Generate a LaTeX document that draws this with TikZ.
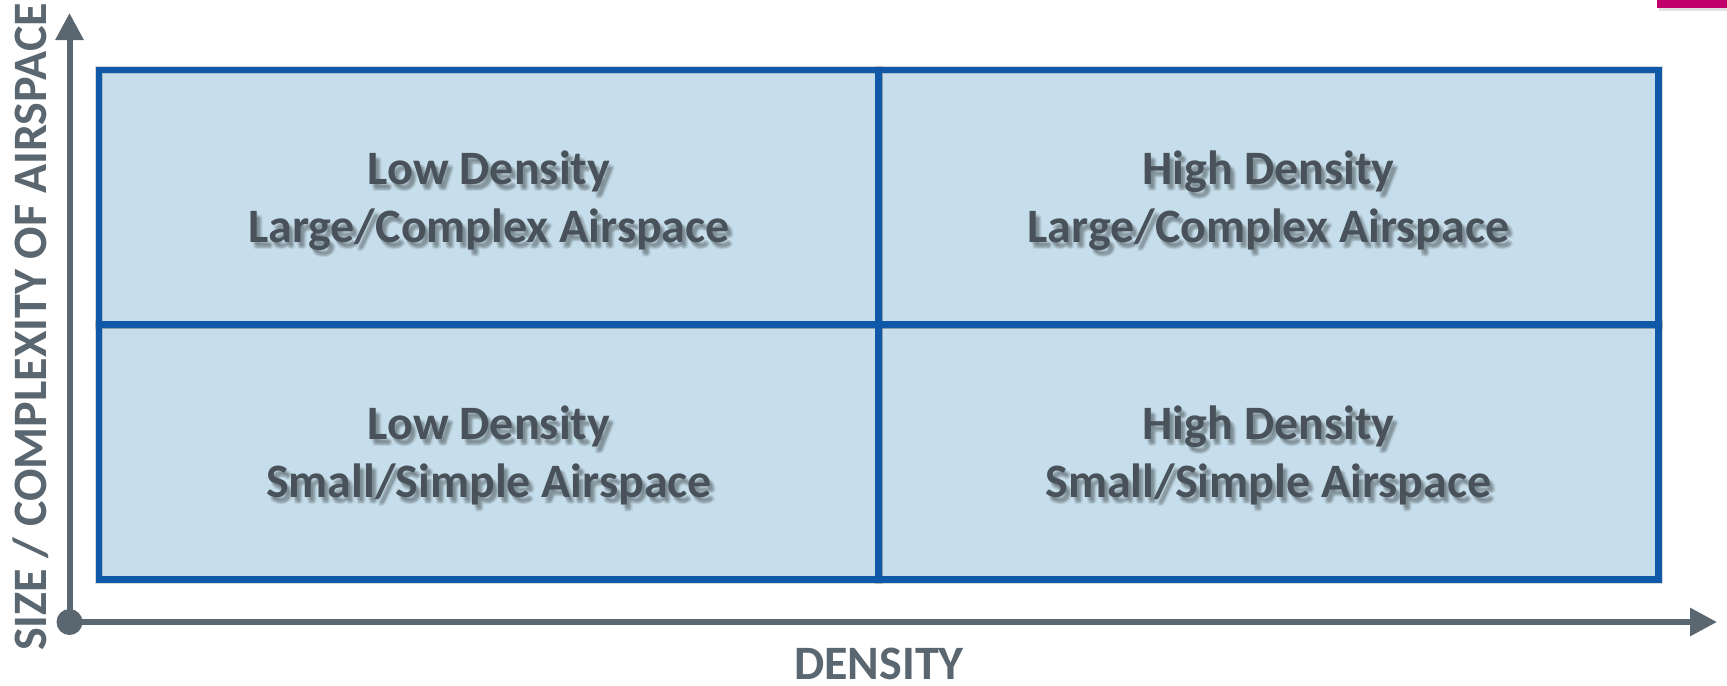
\documentclass[tikz,border=0pt]{standalone}
\usepackage{fontspec}
\setmainfont{Carlito}
\usetikzlibrary{arrows.meta}
\definecolor{qfill}{RGB}{198,222,235}
\definecolor{qline}{RGB}{16,88,168}
\definecolor{qtext}{RGB}{73,82,90}
\definecolor{axiscol}{RGB}{90,102,112}
\definecolor{mag}{RGB}{192,0,106}
\begin{document}
\begin{tikzpicture}[x=0.5pt,y=-0.5pt,
  quad/.style={fill=qfill, minimum width=390pt, minimum height=127.5pt, inner sep=0pt, outer sep=0pt},
  qlabel/.style={font=\fontsize{24}{29}\selectfont\bfseries, text=qtext, align=center, inner sep=0pt},
  qshadow/.style={qlabel, text=black, opacity=0.07},
  border/.style={draw=qline, line width=3.25pt},
  bshadow/.style={draw=black, opacity=0.08, line width=4pt},
  axisline/.style={draw=axiscol, line width=3pt, -{Triangle[length=13.5pt,width=13.5pt]}},
  axlabel/.style={font=\fontsize{24}{29}\selectfont\bfseries, text=axiscol, inner sep=0pt}]
\useasboundingbox (0,0) rectangle (1727,685);
% magenta corner bar
\fill[black, opacity=0.12] (1659,2) rectangle (1727,11);
\fill[mag] (1657,0) rectangle (1727,8);
% quadrants
\node[quad] (tl) at (489,197.25) {};
\node[quad] (tr) at (1268.5,197.25) {};
\node[quad] (bl) at (489,452) {};
\node[quad] (br) at (1268.5,452) {};
% border shadows
\foreach \q in {tl,tr,bl,br}
  \foreach \d in {2,4}
    \draw[bshadow, shift={(\d,\d)}] (\q.north west) rectangle (\q.south east);
% borders
\foreach \q in {tl,tr,bl,br}
  \draw[border] (\q.north west) rectangle (\q.south east);
% label shadows (soft)
\foreach \dx/\dy [count=\i] in {2/3,4/5,3/6,5/4,4/7,6/6}{
  \node[qshadow] (tlS\i) at (489+\dx,201+\dy) {Low Density\\Large/Complex Airspace};
  \node[qshadow] (trS\i) at (1268.5+\dx,201+\dy) {High Density\\Large/Complex Airspace};
  \node[qshadow] (blS\i) at (489+\dx,455+\dy) {Low Density\\Small/Simple Airspace};
  \node[qshadow] (brS\i) at (1268.5+\dx,455+\dy) {High Density\\Small/Simple Airspace};
}
% labels
\node[qlabel] (tlT) at (489,201) {Low Density\\Large/Complex Airspace};
\node[qlabel] (trT) at (1268.5,201) {High Density\\Large/Complex Airspace};
\node[qlabel] (blT) at (489,455) {Low Density\\Small/Simple Airspace};
\node[qlabel] (brT) at (1268.5,455) {High Density\\Small/Simple Airspace};
% axes
\coordinate (ytip) at (69.5,13);
\coordinate (xtip) at (1717,622);
\node[circle, fill=axiscol, minimum size=13pt, inner sep=0pt] (origin) at (69.5,622) {};
\draw[axisline] (origin.center) -- (ytip);
\draw[axisline] (origin.center) -- (xtip);
\node[axlabel] (xlab) at (879,664) {DENSITY};
\node[axlabel, rotate=90] (ylab) at (31,327) {SIZE / COMPLEXITY OF AIRSPACE};
\end{tikzpicture}
\end{document}
